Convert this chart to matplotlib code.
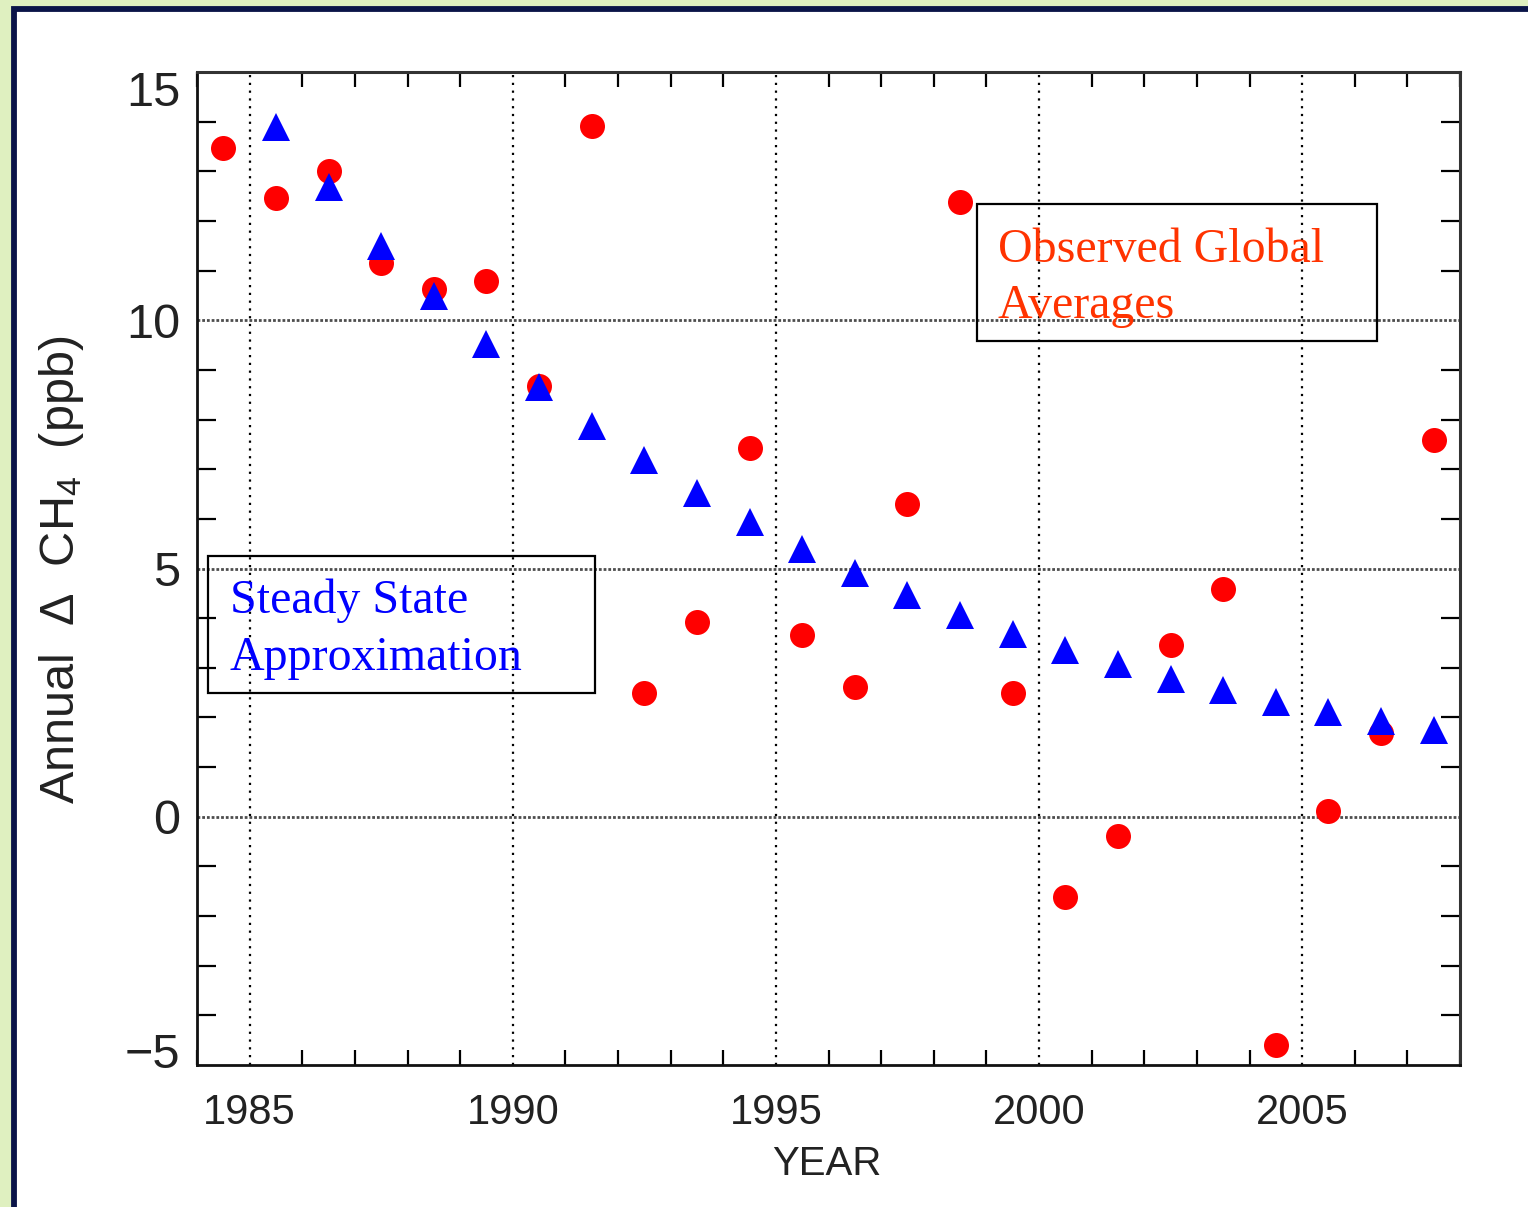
import matplotlib.pyplot as plt
from matplotlib.patches import Rectangle
from matplotlib.ticker import MultipleLocator
from matplotlib.transforms import ScaledTranslation

# annual methane growth, observed vs steady state model
years = [1984.5, 1985.5, 1986.5, 1987.5, 1988.5, 1989.5, 1990.5, 1991.5,
         1992.5, 1993.5, 1994.5, 1995.5, 1996.5, 1997.5, 1998.5, 1999.5,
         2000.5, 2001.5, 2002.5, 2003.5, 2004.5, 2005.5, 2006.5, 2007.5]
observed = [13.47, 12.46, 13.0, 11.15, 10.63, 10.79, 8.68, 13.91,
            2.50, 3.93, 7.43, 3.67, 2.62, 6.30, 12.38, 2.49,
            -1.62, -0.39, 3.46, 4.58, -4.6, 0.12, 1.68, 7.59]

model_years = [1985.5, 1986.5, 1987.5, 1988.5, 1989.5, 1990.5, 1991.5,
               1992.5, 1993.5, 1994.5, 1995.5, 1996.5, 1997.5, 1998.5, 1999.5,
               2000.5, 2001.5, 2002.5, 2003.5, 2004.5, 2005.5, 2006.5, 2007.5]
steady_state = [13.9, 12.68, 11.5, 10.49, 9.52, 8.66, 7.87,
                7.18, 6.53, 5.94, 5.40, 4.91, 4.47, 4.06, 3.69,
                3.36, 3.07, 2.78, 2.55, 2.32, 2.11, 1.92, 1.75]

x_major = [1985, 1990, 1995, 2000, 2005]
y_major = [-5, 0, 5, 10, 15]
y_grid = [0, 5, 10]

plt.rcParams['font.family'] = ['Liberation Sans', 'DejaVu Sans']
plt.rcParams['mathtext.default'] = 'regular'

fig = plt.figure(figsize=(15.28, 12.07), dpi=100, facecolor='#dff0c0')

# white slide panel with navy frame
W, H = 1528, 1207
fig.patches.append(Rectangle((13.5 / W, -0.1), 1.2, 1.1 - 9 / H,
                             transform=fig.transFigure, facecolor='white',
                             edgecolor='#0a1448', linewidth=4.2, zorder=-10))

ax = fig.add_axes([197 / W, 1 - 1065 / H, (1460 - 197) / W, (1065 - 72) / H])
ax.set_facecolor('none')

ax.set_xlim(1984, 2008)
ax.set_ylim(-5, 15)

for gx in x_major:
    ax.axvline(gx, color='black', lw=1.6, linestyle=(0, (1, 2.5)), zorder=1)
for gy in y_grid:
    ax.axhline(gy, color='0.3', lw=2.0, linestyle=(0, (1, 0.7)), zorder=1)

ax.plot(years, observed, 'o', color='#ff0000', markersize=18,
        markeredgewidth=0, zorder=3)
ax.plot(model_years, steady_state, '^', color='#0000ff', markersize=20,
        markeredgewidth=0, zorder=4)

ax.set_xticks(x_major)
ax.set_yticks(y_major)
ax.xaxis.set_minor_locator(MultipleLocator(1))
ax.yaxis.set_minor_locator(MultipleLocator(1))
ax.tick_params(which='major', length=0)
ax.tick_params(axis='x', which='major', labelsize=30, pad=20, labelcolor='#222222')
ax.tick_params(axis='y', which='major', labelsize=35, pad=12, labelcolor='#222222')
ax.tick_params(axis='x', which='minor', direction='in', length=11, width=1.6,
               top=True, bottom=True)
ax.tick_params(axis='y', which='minor', direction='in', length=14, width=1.6,
               left=True, right=True)

# end labels on the y axis sit inside the axis range
yticks = ax.yaxis.get_major_ticks()
for tick, dy in [(yticks[0], 15), (yticks[-1], -16)]:
    tick.label1.set_transform(tick.label1.get_transform()
                              + ScaledTranslation(0, dy / 100, fig.dpi_scale_trans))

for side in ['left', 'bottom']:
    ax.spines[side].set_linewidth(2.0)
    ax.spines[side].set_color('#111111')
for side in ['top', 'right']:
    ax.spines[side].set_linewidth(2.2)
    ax.spines[side].set_color('#333333')

fig.text(827 / W, 1 - 1164 / H, 'YEAR', fontsize=29, color='#222222',
         ha='center', va='center')
fig.text(62 / W, 1 - 570 / H, r'Annual  $\Delta$  CH$_4$  (ppb)', fontsize=35,
         color='#222222', rotation=90, ha='center', va='center')

# annotation boxes
ax.add_patch(Rectangle((0.0087, 0.3746), 0.3064, 0.138, transform=ax.transAxes,
                       fill=False, edgecolor='black', lw=1.6, zorder=5))
ax.add_patch(Rectangle((0.6176, 0.7291), 0.3167, 0.138, transform=ax.transAxes,
                       fill=False, edgecolor='black', lw=1.6, zorder=5))

serif = dict(family='Liberation Serif', fontsize=34.5, va='baseline', ha='left',
             transform=ax.transAxes, zorder=6)
ax.text(0.0261, 0.4552, 'Steady State', color='#0000ff', **serif)
ax.text(0.0261, 0.3978, 'Approximation', color='#0000ff', **serif)
ax.text(0.6342, 0.8087, 'Observed Global', color='#ff3300', **serif)
ax.text(0.6342, 0.7523, 'Averages', color='#ff3300', **serif)

fig.savefig('out.png', dpi=100, facecolor=fig.get_facecolor())
